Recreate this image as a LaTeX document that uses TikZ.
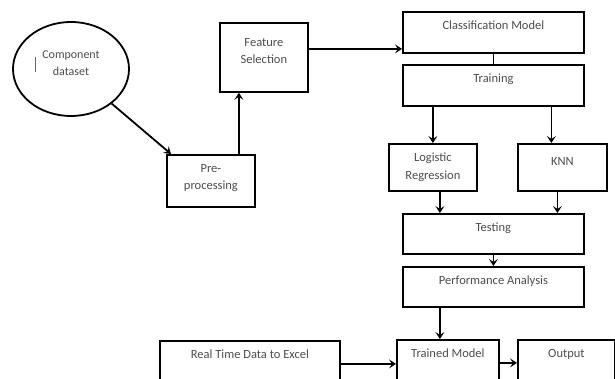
\documentclass[tikz,border=0pt]{standalone}
\usepackage{fontspec}
\setmainfont{Carlito}
\usetikzlibrary{arrows.meta,shapes.geometric}

\begin{document}
\begin{tikzpicture}[x=1pt,y=-1pt,
  txt/.style={align=center,inner sep=0pt,text=black!70,font=\fontsize{12.5}{17.5}\selectfont},
  lbl/.style={txt,anchor=north,yshift=-10pt},
  box/.style={draw,line width=1.8pt,inner sep=0pt,anchor=north west},
  arr/.style={line width=1.8pt,-{Stealth[length=7pt,width=9pt,inset=3pt]}}]
  \useasboundingbox (0,0) rectangle (615,379); \clip (0,0) rectangle (615,379);
  \node[draw,ellipse,line width=1.8pt,minimum width=116pt,minimum height=94pt,inner sep=0pt] (data) at (71,69) {};
  \node[txt,font=\fontsize{12}{17.5}\selectfont] (datatxt) at (71,63) {Component\\dataset};
  \draw[black!60,line width=0.6pt] (35,57) -- (35,72);
  \node[box,minimum width=88pt,minimum height=69pt,label={[lbl,yshift=-6pt]north:Feature\\Selection}] (feat) at (219,22) {};
  \node[box,minimum width=88pt,minimum height=52pt,label={[lbl]north:Pre-\\processing}] (pre) at (166,154) {};
  \node[box,minimum width=181pt,minimum height=41pt,label={[lbl]north:Classification Model}] (cls) at (402,11) {};
  \node[box,minimum width=181pt,minimum height=41pt,label={[lbl]north:Training}] (train) at (402,64) {};
  \node[box,minimum width=88pt,minimum height=47pt,label={[lbl]north:Logistic\\Regression}] (logreg) at (388,143) {};
  \node[box,minimum width=89pt,minimum height=47pt,label={[lbl,yshift=-4pt]north:KNN}] (knn) at (517,143) {};
  \node[box,minimum width=181pt,minimum height=40pt,label={[lbl]north:Testing}] (test) at (402,213) {};
  \node[box,minimum width=181pt,minimum height=40pt,label={[lbl]north:Performance Analysis}] (perf) at (402,266) {};
  \node[box,minimum width=180pt,minimum height=46pt,label={[lbl]north:Real Time Data to Excel}] (real) at (159,340) {};
  \node[box,minimum width=102pt,minimum height=46pt,label={[lbl]north:Trained Model}] (trained) at (396,339) {};
  \node[box,minimum width=97pt,minimum height=46pt,label={[lbl]north:Output}] (output) at (517,339) {};
  \draw[arr] (data) -- ([xshift=5pt]pre.north west);
  \draw[arr] ([xshift=28pt]pre.north) -- ([xshift=28pt]pre.north |- feat.south);
  \draw[arr] ([yshift=8.5pt]feat.east) -- ([yshift=8.5pt]feat.east -| cls.west);
  \draw[line width=1.8pt] (cls.south) -- (train.north);
  \draw[arr] (logreg.north |- train.south) -- (logreg.north);
  \draw[arr] ([xshift=-11pt]knn.north |- train.south) -- ([xshift=-11pt]knn.north);
  \draw[arr] ([xshift=7pt]logreg.south) -- ([xshift=7pt]logreg.south |- test.north);
  \draw[arr] ([xshift=-5pt]knn.south) -- ([xshift=-5pt]knn.south |- test.north);
  \draw[arr] (test.south) -- (perf.north);
  \draw[arr] ([xshift=-8pt]trained.north |- perf.south) -- ([xshift=-8pt]trained.north);
  \draw[arr] (real.east) -- (real.east -| trained.west);
  \draw[arr] (trained.east) -- (output.west);
\end{tikzpicture}
\end{document}
